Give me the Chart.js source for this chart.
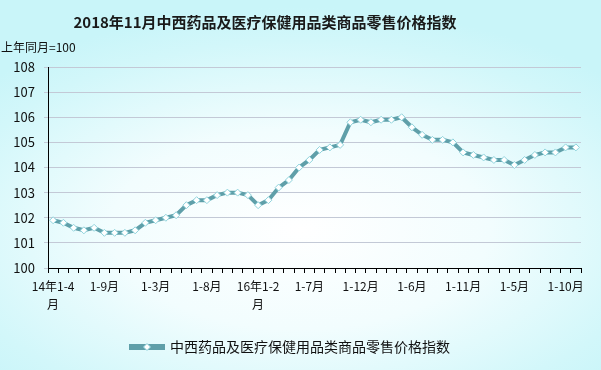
<!DOCTYPE html>
<html>
<head>
<meta charset="utf-8">
<script src="https://cdn.jsdelivr.net/npm/chart.js@4/dist/chart.umd.min.js"></script>
<style>
  html, body { margin: 0; padding: 0; }
  body {
    width: 601px; height: 370px; overflow: hidden;
    background: radial-gradient(ellipse 70% 60% at 50% 62%, #ffffff 0%, #f2fdfe 45%, #d2f7fa 85%, #c9f5f9 100%);
  }
  #wrap { position: relative; width: 601px; height: 370px; }
</style>
</head>
<body>
<div id="wrap"><canvas id="myChart" width="601" height="370"></canvas></div>
<script>
const titleText = "2018年11月中西药品及医疗保健用品类商品零售价格指数";
const unitText = "上年同月=100";
const seriesName = "中西药品及医疗保健用品类商品零售价格指数";

// 月度累计，14年1-4月 到 18年1-11月
const months = [
  "14年1-4月", "1-5月", "1-6月", "1-7月", "1-8月", "1-9月", "1-10月", "1-11月", "1-12月",
  "15年1-2月", "1-3月", "1-4月", "1-5月", "1-6月", "1-7月", "1-8月", "1-9月", "1-10月", "1-11月", "1-12月",
  "16年1-2月", "1-3月", "1-4月", "1-5月", "1-6月", "1-7月", "1-8月", "1-9月", "1-10月", "1-11月", "1-12月",
  "17年1-2月", "1-3月", "1-4月", "1-5月", "1-6月", "1-7月", "1-8月", "1-9月", "1-10月", "1-11月", "1-12月",
  "18年1-2月", "1-3月", "1-4月", "1-5月", "1-6月", "1-7月", "1-8月", "1-9月", "1-10月", "1-11月"
];

const indexValues = [
  101.9, 101.8, 101.6, 101.5, 101.6, 101.4, 101.4, 101.4, 101.5,
  101.8, 101.9, 102.0, 102.1, 102.5, 102.7, 102.7, 102.9, 103.0, 103.0, 102.9,
  102.5, 102.7, 103.2, 103.5, 104.0, 104.3, 104.7, 104.8, 104.9, 105.8, 105.9,
  105.8, 105.9, 105.9, 106.0, 105.6, 105.3, 105.1, 105.1, 105.0, 104.6, 104.5,
  104.4, 104.3, 104.3, 104.1, 104.3, 104.5, 104.6, 104.6, 104.8, 104.8
];

const yMin = 100, yMax = 108;
const labelEvery = 5;

const cjk = "'Noto Sans CJK SC', 'DejaVu Sans', sans-serif";

// title, unit label, and the little diamond on the legend line
const textPlugin = {
  id: "texts",
  afterDraw(chart) {
    const ctx = chart.ctx;
    ctx.save();
    ctx.fillStyle = "#1a1a1a";
    ctx.font = "bold 15px " + cjk;
    ctx.textAlign = "center";
    ctx.textBaseline = "middle";
    ctx.fillText(titleText, 265, 22);
    ctx.font = "12px " + cjk;
    ctx.textAlign = "left";
    ctx.fillStyle = "#111";
    ctx.fillText(unitText, 1, 47);

    const hb = chart.legend.legendHitBoxes[0];
    if (hb) {
      const cx = hb.left + 16, cy = hb.top + hb.height / 2;
      ctx.beginPath();
      ctx.moveTo(cx, cy - 3.5);
      ctx.lineTo(cx + 3.5, cy);
      ctx.lineTo(cx, cy + 3.5);
      ctx.lineTo(cx - 3.5, cy);
      ctx.closePath();
      ctx.fillStyle = "#fff";
      ctx.fill();
      ctx.strokeStyle = "#8fd3dc";
      ctx.lineWidth = 1;
      ctx.stroke();
    }
    ctx.restore();
  }
};

const data = {
  labels: months,
  datasets: [{
    label: seriesName,
    data: indexValues,
    borderColor: "#5f9fa9",
    backgroundColor: "#5f9fa9",
    borderWidth: 4,
    pointStyle: "rectRot",
    pointRadius: 3.5,
    pointBackgroundColor: "#ffffff",
    pointBorderColor: "#8fd3dc",
    pointBorderWidth: 1,
    tension: 0
  }]
};

const config = {
  type: "line",
  data: data,
  plugins: [textPlugin],
  options: {
    responsive: false,
    animation: false,
    layout: { padding: { top: 67, right: 20, left: 0, bottom: 6 } },
    plugins: {
      title: { display: false },
      tooltip: { enabled: false },
      legend: {
        position: "bottom",
        labels: {
          boxWidth: 32,
          boxHeight: 2,
          color: "#111",
          font: { size: 14, family: cjk },
          padding: 10
        }
      }
    },
    scales: {
      x: {
        offset: true,
        afterFit(scale) { scale.height = 62; },
        border: { color: "#000", width: 1 },
        grid: { offset: true, drawOnChartArea: false, drawTicks: true, tickLength: 5, color: "#000" },
        ticks: {
          autoSkip: false,
          maxRotation: 0,
          minRotation: 0,
          padding: 4,
          color: "#111",
          font: { size: 12, family: cjk, lineHeight: 1.5 },
          callback(value, i) {
            if (i % labelEvery !== 0) return "";
            const s = months[i];
            if (s.indexOf("年") >= 0) return [s.slice(0, -1), "月"];
            return s;
          }
        }
      },
      y: {
        min: yMin,
        max: yMax,
        afterFit(scale) { scale.width = 48; },
        border: { color: "#000", width: 1 },
        grid: { color: "#c3c9d6", lineWidth: 1, tickLength: 4 },
        ticks: {
          stepSize: 1,
          padding: 9,
          color: "#111",
          font: { size: 13, family: cjk }
        }
      }
    }
  }
};

new Chart(document.getElementById("myChart"), config);
</script>
</body>
</html>
